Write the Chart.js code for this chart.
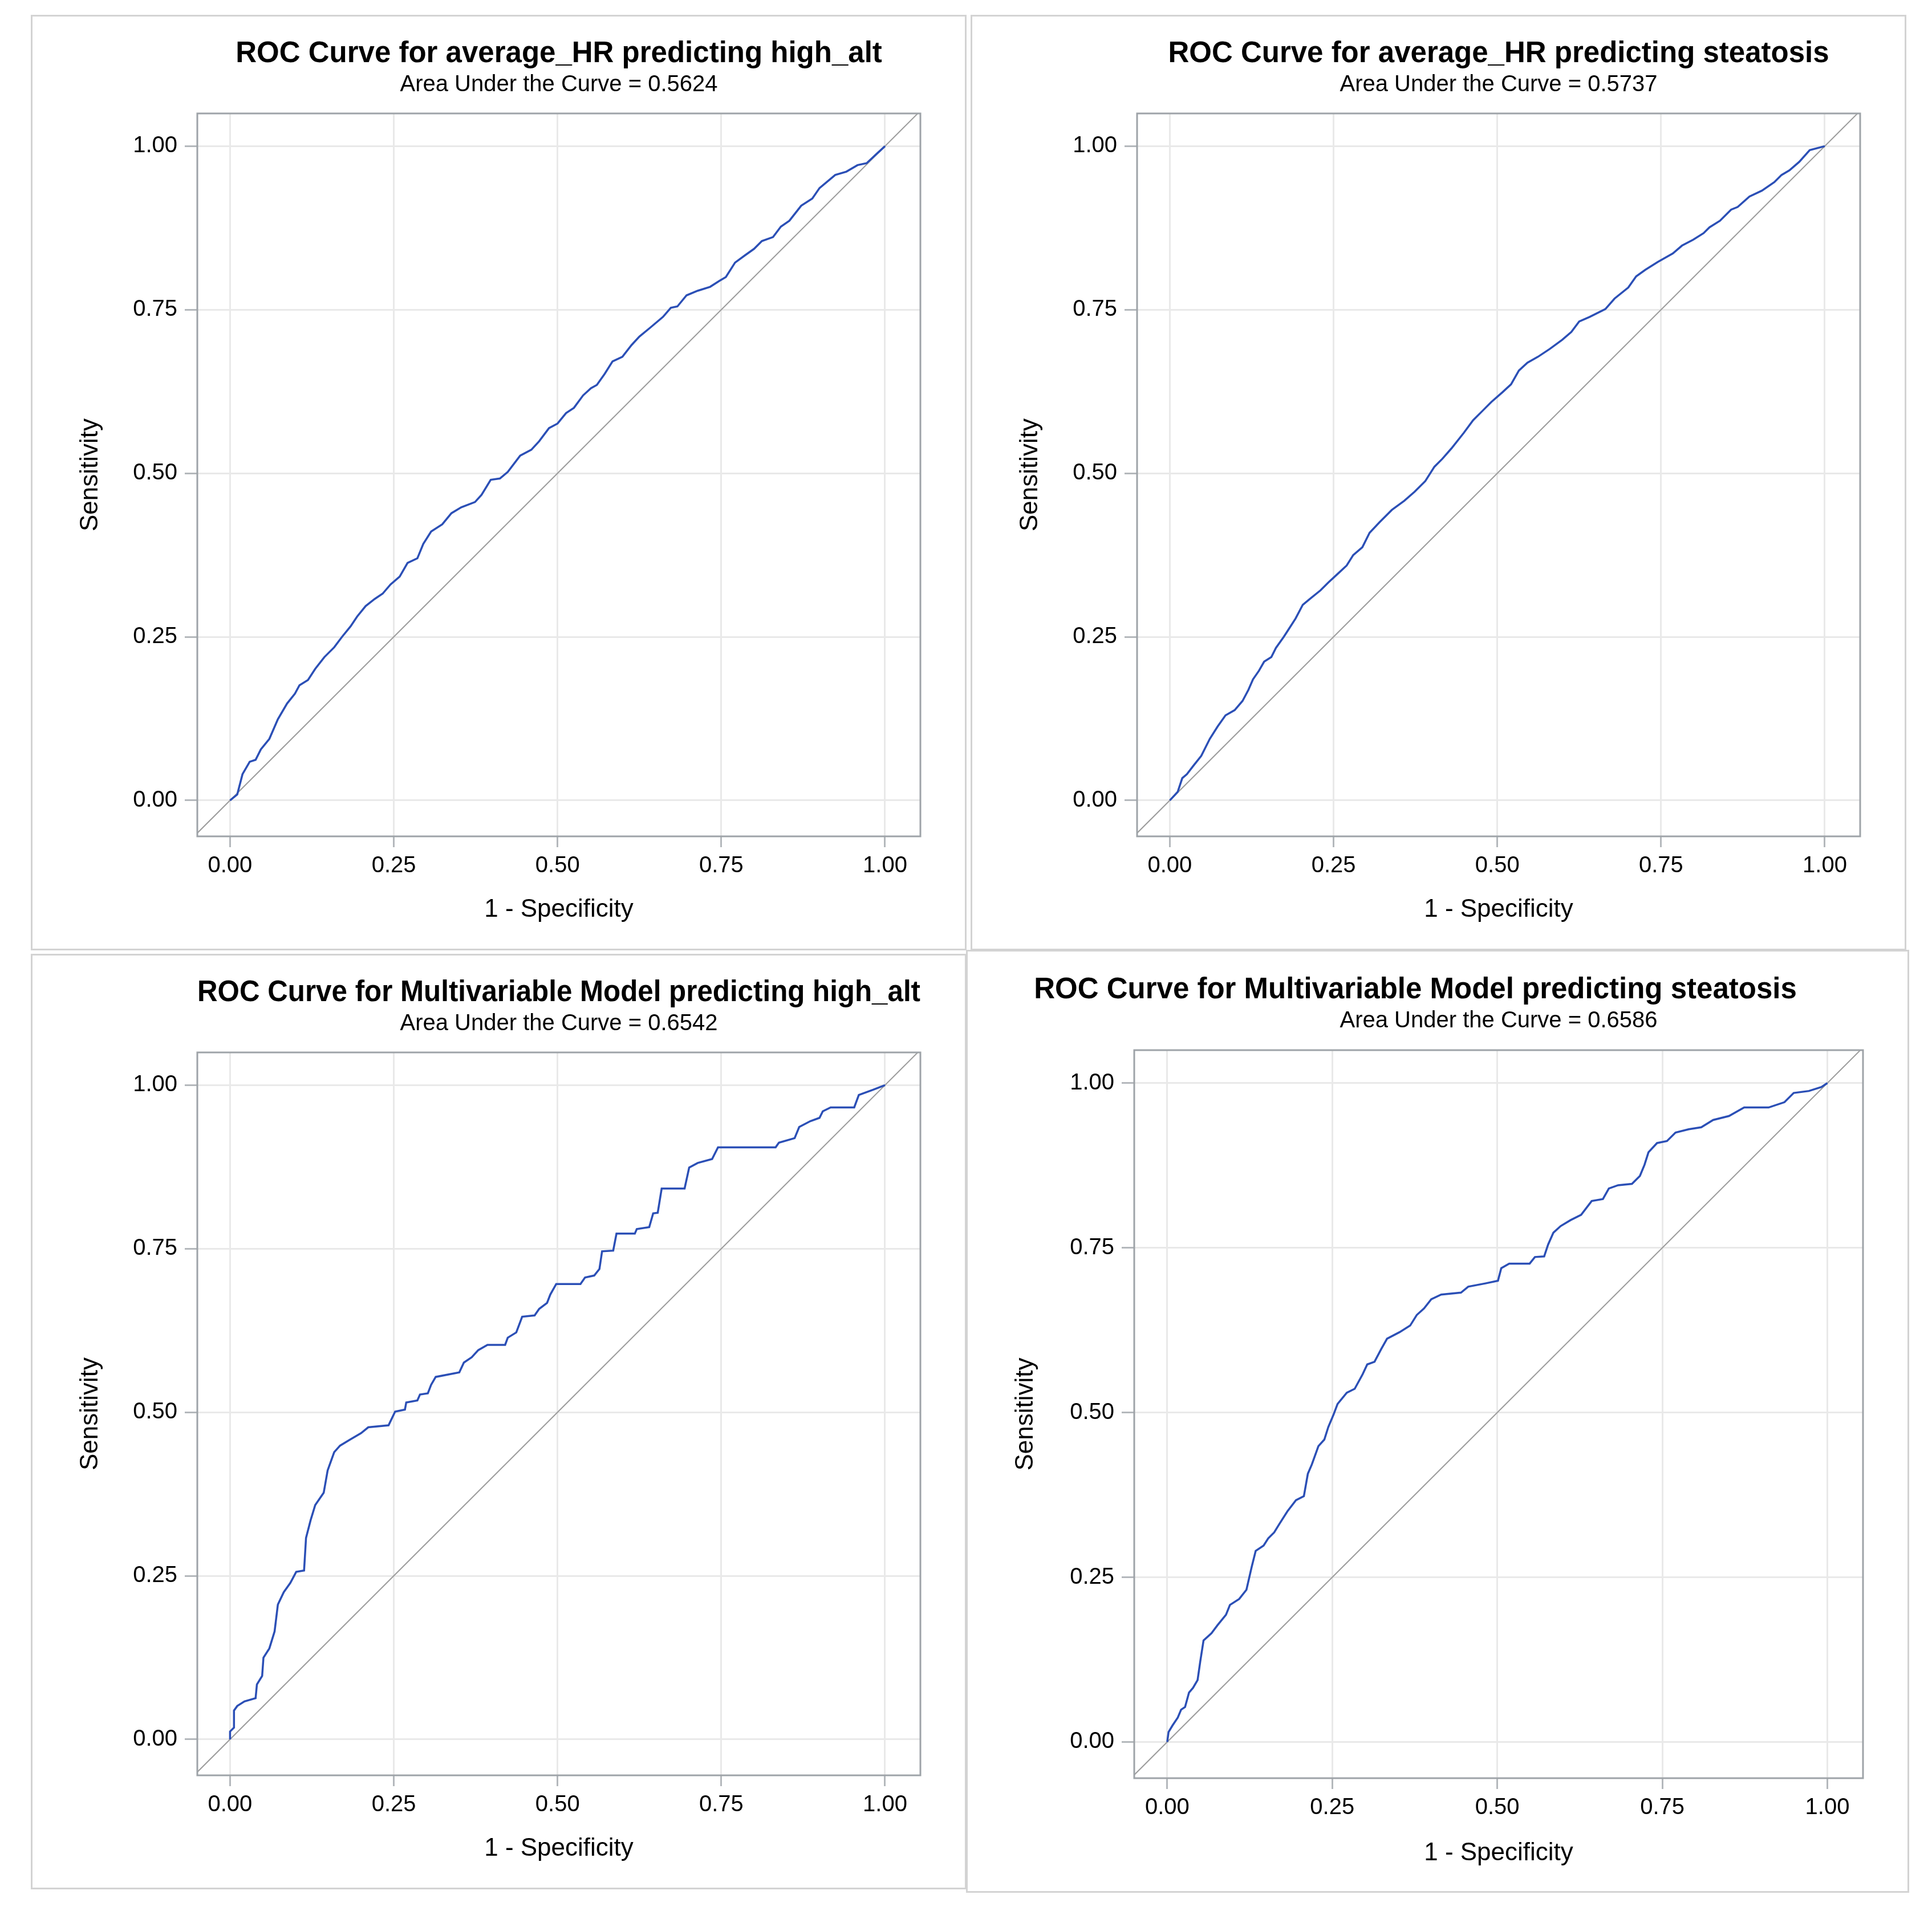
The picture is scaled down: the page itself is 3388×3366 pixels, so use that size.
<!DOCTYPE html>
<html>
<head>
<meta charset="utf-8">
<title>ROC curves</title>
<script src="https://cdn.jsdelivr.net/npm/chart.js@4.4.1/dist/chart.umd.min.js"></script>
<style>
  html, body { margin: 0; padding: 0; background: #fff; }
  body { width: 3388px; height: 3366px; position: relative; overflow: hidden; }
  .panel { position: absolute; box-sizing: border-box; border: 3px solid #d3d3d3; background: #fff; }
  .panel canvas { display: block; }
</style>
</head>
<body>
<div class="panel" style="left:54px;top:26px;width:1641px;height:1641px"><canvas id="c1" width="1635" height="1635"></canvas></div>
<div class="panel" style="left:1702px;top:26px;width:1641px;height:1641px"><canvas id="c2" width="1635" height="1635"></canvas></div>
<div class="panel" style="left:54px;top:1673px;width:1641px;height:1641px"><canvas id="c3" width="1635" height="1635"></canvas></div>
<div class="panel" style="left:1694px;top:1666px;width:1654px;height:1654px"><canvas id="c4" width="1648" height="1648"></canvas></div>

<script>
// tick values shared by both axes of every panel
const tickVals = [0, 0.25, 0.5, 0.75, 1];
// chance line, runs corner to corner (clipped to the plot)
const refLine = [-0.06, 1.06];

const titles = [
  'ROC Curve for average_HR predicting high_alt',
  'ROC Curve for average_HR predicting steatosis',
  'ROC Curve for Multivariable Model predicting high_alt',
  'ROC Curve for Multivariable Model predicting steatosis'
];
const aucLabels = [
  'Area Under the Curve = 0.5624',
  'Area Under the Curve = 0.5737',
  'Area Under the Curve = 0.6542',
  'Area Under the Curve = 0.6586'
];

// average_HR -> high_alt
const fprHrAlt = [0, 0.011, 0.019, 0.030, 0.039, 0.047, 0.060, 0.073, 0.087, 0.099, 0.106, 0.119, 0.130, 0.144, 0.159, 0.171, 0.184, 0.194, 0.207, 0.221, 0.233, 0.245, 0.259, 0.271, 0.286, 0.295, 0.307, 0.324, 0.338, 0.353, 0.374, 0.384, 0.398, 0.412, 0.424, 0.443, 0.460, 0.472, 0.487, 0.500, 0.513, 0.525, 0.539, 0.551, 0.560, 0.572, 0.584, 0.599, 0.613, 0.625, 0.642, 0.661, 0.673, 0.683, 0.697, 0.714, 0.733, 0.747, 0.757, 0.771, 0.786, 0.800, 0.812, 0.829, 0.841, 0.854, 0.872, 0.889, 0.900, 0.924, 0.941, 0.958, 0.972, 0.987, 1];
const tprHrAlt = [0, 0.009, 0.040, 0.059, 0.062, 0.078, 0.094, 0.124, 0.148, 0.163, 0.176, 0.184, 0.201, 0.219, 0.234, 0.250, 0.266, 0.281, 0.297, 0.308, 0.316, 0.330, 0.342, 0.363, 0.370, 0.392, 0.411, 0.422, 0.439, 0.448, 0.456, 0.467, 0.490, 0.492, 0.502, 0.527, 0.536, 0.549, 0.569, 0.576, 0.592, 0.600, 0.619, 0.630, 0.635, 0.652, 0.671, 0.678, 0.696, 0.709, 0.723, 0.739, 0.753, 0.755, 0.772, 0.779, 0.785, 0.794, 0.800, 0.822, 0.833, 0.843, 0.855, 0.861, 0.877, 0.886, 0.909, 0.920, 0.936, 0.956, 0.961, 0.971, 0.974, 0.988, 1];

// average_HR -> steatosis
const fprHrSte = [0, 0.012, 0.019, 0.026, 0.036, 0.048, 0.061, 0.073, 0.085, 0.099, 0.111, 0.120, 0.127, 0.136, 0.144, 0.155, 0.162, 0.174, 0.183, 0.192, 0.203, 0.214, 0.230, 0.242, 0.256, 0.270, 0.280, 0.294, 0.305, 0.320, 0.339, 0.358, 0.374, 0.390, 0.404, 0.416, 0.430, 0.449, 0.463, 0.477, 0.491, 0.508, 0.521, 0.533, 0.546, 0.562, 0.580, 0.599, 0.613, 0.625, 0.641, 0.665, 0.679, 0.700, 0.712, 0.726, 0.745, 0.768, 0.782, 0.799, 0.815, 0.824, 0.840, 0.857, 0.867, 0.885, 0.904, 0.923, 0.934, 0.946, 0.961, 0.977, 1];
const tprHrSte = [0, 0.013, 0.034, 0.040, 0.053, 0.068, 0.094, 0.113, 0.130, 0.138, 0.152, 0.169, 0.185, 0.198, 0.212, 0.219, 0.233, 0.250, 0.264, 0.278, 0.299, 0.308, 0.321, 0.333, 0.346, 0.359, 0.375, 0.387, 0.409, 0.425, 0.444, 0.458, 0.472, 0.488, 0.510, 0.522, 0.538, 0.562, 0.581, 0.595, 0.609, 0.624, 0.636, 0.657, 0.669, 0.678, 0.690, 0.704, 0.716, 0.732, 0.739, 0.751, 0.767, 0.784, 0.801, 0.811, 0.823, 0.836, 0.848, 0.857, 0.867, 0.876, 0.886, 0.903, 0.907, 0.923, 0.932, 0.945, 0.956, 0.963, 0.976, 0.994, 1];

// Multivariable Model -> high_alt
const fprMvAlt = [0, 0, 0.006, 0.006, 0.011, 0.022, 0.039, 0.041, 0.049, 0.051, 0.060, 0.068, 0.073, 0.082, 0.092, 0.101, 0.113, 0.116, 0.123, 0.130, 0.143, 0.149, 0.154, 0.159, 0.168, 0.183, 0.200, 0.211, 0.242, 0.252, 0.267, 0.269, 0.286, 0.290, 0.302, 0.307, 0.314, 0.350, 0.357, 0.369, 0.379, 0.393, 0.420, 0.424, 0.437, 0.446, 0.465, 0.472, 0.484, 0.489, 0.498, 0.535, 0.542, 0.556, 0.564, 0.568, 0.585, 0.590, 0.618, 0.621, 0.640, 0.646, 0.653, 0.659, 0.694, 0.701, 0.714, 0.736, 0.745, 0.833, 0.838, 0.862, 0.869, 0.886, 0.900, 0.905, 0.917, 0.953, 0.960, 0.982, 1];
const tprMvAlt = [0, 0.012, 0.018, 0.044, 0.051, 0.058, 0.063, 0.084, 0.097, 0.125, 0.139, 0.165, 0.206, 0.225, 0.239, 0.256, 0.258, 0.308, 0.335, 0.358, 0.377, 0.411, 0.425, 0.439, 0.449, 0.458, 0.468, 0.477, 0.480, 0.501, 0.504, 0.515, 0.518, 0.527, 0.529, 0.542, 0.554, 0.561, 0.576, 0.584, 0.595, 0.603, 0.603, 0.614, 0.622, 0.646, 0.648, 0.658, 0.667, 0.680, 0.696, 0.696, 0.706, 0.709, 0.719, 0.746, 0.747, 0.773, 0.773, 0.780, 0.783, 0.804, 0.805, 0.842, 0.842, 0.874, 0.881, 0.887, 0.905, 0.905, 0.912, 0.919, 0.936, 0.945, 0.950, 0.960, 0.966, 0.966, 0.985, 0.993, 1];

// Multivariable Model -> steatosis
const fprMvSte = [0, 0.002, 0.008, 0.016, 0.021, 0.027, 0.033, 0.039, 0.046, 0.050, 0.055, 0.067, 0.076, 0.089, 0.095, 0.109, 0.120, 0.128, 0.134, 0.146, 0.153, 0.162, 0.170, 0.182, 0.195, 0.207, 0.213, 0.219, 0.229, 0.238, 0.244, 0.252, 0.258, 0.272, 0.284, 0.296, 0.303, 0.314, 0.324, 0.333, 0.352, 0.368, 0.378, 0.389, 0.400, 0.415, 0.445, 0.456, 0.482, 0.501, 0.506, 0.518, 0.549, 0.557, 0.571, 0.577, 0.585, 0.596, 0.611, 0.627, 0.643, 0.660, 0.669, 0.683, 0.704, 0.716, 0.723, 0.729, 0.742, 0.757, 0.770, 0.790, 0.809, 0.827, 0.851, 0.874, 0.911, 0.935, 0.949, 0.972, 0.991, 1];
const tprMvSte = [0, 0.015, 0.025, 0.037, 0.049, 0.053, 0.075, 0.082, 0.094, 0.122, 0.154, 0.165, 0.177, 0.193, 0.208, 0.217, 0.231, 0.266, 0.290, 0.298, 0.309, 0.318, 0.331, 0.350, 0.367, 0.373, 0.407, 0.421, 0.449, 0.459, 0.478, 0.497, 0.513, 0.530, 0.536, 0.558, 0.573, 0.577, 0.596, 0.612, 0.622, 0.632, 0.648, 0.658, 0.672, 0.679, 0.682, 0.691, 0.696, 0.700, 0.719, 0.726, 0.726, 0.736, 0.737, 0.755, 0.773, 0.783, 0.792, 0.800, 0.821, 0.824, 0.840, 0.845, 0.847, 0.859, 0.876, 0.895, 0.909, 0.912, 0.925, 0.930, 0.933, 0.944, 0.950, 0.963, 0.963, 0.971, 0.985, 0.988, 0.994, 1];

const fontFamily = "'Liberation Sans', Arial, sans-serif";
const curveColor = '#2b4fb6';
const refColor = '#9c9c9c';
const gridColor = '#e9e9e9';
const frameColor = '#9ea3a8';

Chart.defaults.font.family = fontFamily;
Chart.defaults.color = '#000';

// SAS draws a box all round the plot area
const framePlugin = {
  id: 'frame',
  afterDatasetsDraw(chart) {
    const { ctx, chartArea: a } = chart;
    ctx.save();
    ctx.strokeStyle = frameColor;
    ctx.lineWidth = 3;
    ctx.strokeRect(a.left, a.top, a.right - a.left, a.bottom - a.top);
    ctx.restore();
  }
};

function setTicks(scale) {
  scale.ticks = tickVals.map(v => ({ value: v }));
}

function rocChart(id, title, sub, fpr, tpr, lay) {
  const curve = fpr.map((x, i) => ({ x: x, y: tpr[i] }));
  const diag = refLine.map(v => ({ x: v, y: v }));

  return new Chart(document.getElementById(id), {
    type: 'line',
    data: {
      datasets: [
        { data: curve, borderColor: curveColor, borderWidth: 3.5, pointRadius: 0, tension: 0 },
        { data: diag, borderColor: refColor, borderWidth: 2, pointRadius: 0, tension: 0, clip: 0 }
      ]
    },
    options: {
      responsive: false,
      animation: false,
      devicePixelRatio: 1,
      layout: { padding: { left: 0, right: 78, top: 0, bottom: 0 } },
      plugins: {
        legend: { display: false },
        tooltip: { enabled: false },
        title: {
          display: true,
          text: title,
          fullSize: lay.fullTitle,
          color: '#000',
          font: { size: 51, weight: 'bold' },
          padding: { top: lay.titleTop, bottom: 0 }
        },
        subtitle: {
          display: true,
          text: sub,
          fullSize: false,
          color: '#000',
          font: { size: 40 },
          padding: { top: 0, bottom: lay.subBottom }
        }
      },
      scales: {
        x: {
          type: 'linear',
          min: -0.05,
          max: 1.054,
          afterBuildTicks: setTicks,
          afterFit: s => { s.height = lay.xh; },
          ticks: {
            callback: v => v.toFixed(2),
            font: { size: 40 },
            color: '#000',
            padding: 9,
            maxRotation: 0,
            autoSkip: false
          },
          grid: { color: gridColor, lineWidth: 3, tickLength: 19, tickColor: '#b4b8bc', tickWidth: 3 },
          border: { display: false },
          title: {
            display: true,
            text: '1 - Specificity',
            color: '#000',
            font: { size: 44 },
            padding: { top: 0, bottom: lay.xTitleBottom }
          }
        },
        y: {
          type: 'linear',
          min: -0.055,
          max: 1.05,
          afterBuildTicks: setTicks,
          afterFit: s => { s.width = lay.yw; },
          ticks: {
            callback: v => v.toFixed(2),
            font: { size: 40 },
            color: '#000',
            padding: 13,
            autoSkip: false
          },
          grid: { color: gridColor, lineWidth: 3, tickLength: 22, tickColor: '#b4b8bc', tickWidth: 3 },
          border: { display: false },
          title: {
            display: true,
            text: 'Sensitivity',
            color: '#000',
            font: { size: 44 },
            padding: { top: 75, bottom: 0 }
          }
        }
      }
    },
    plugins: [framePlugin]
  });
}

const smallLay = { yw: 289, xh: 197, titleTop: 35, subBottom: 25.8, xTitleBottom: 42, fullTitle: false };

rocChart('c1', titles[0], aucLabels[0], fprHrAlt, tprHrAlt, smallLay);
rocChart('c2', titles[1], aucLabels[1], fprHrSte, tprHrSte, smallLay);
rocChart('c3', titles[2], aucLabels[2], fprMvAlt, tprMvAlt, smallLay);
rocChart('c4', titles[3], aucLabels[3], fprMvSte, tprMvSte,
  { yw: 292, xh: 198, titleTop: 37, subBottom: 26.8, xTitleBottom: 40, fullTitle: true });
</script>
</body>
</html>
